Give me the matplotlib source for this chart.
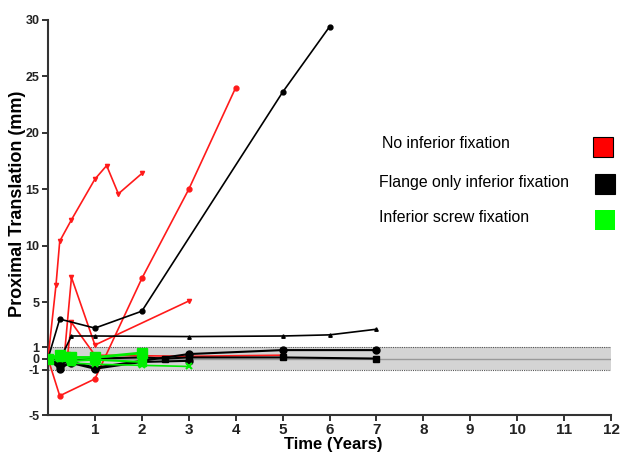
import matplotlib
matplotlib.use("Agg")
import matplotlib.pyplot as plt
from matplotlib.patches import Rectangle

# --- data (x = years, y = mm) ---
red_1_x = [0, 0.17, 0.25, 0.5, 1, 1.25, 1.5, 2]
red_1_y = [0, 6.5, 10.4, 12.3, 15.9, 17.1, 14.6, 16.4]
red_2_x = [0, 0.25, 1, 2, 3, 4]
red_2_y = [0, -3.3, -1.8, 7.1, 15.0, 24.0]
red_3_x = [0, 0.35, 0.5, 1, 3]
red_3_y = [0, 0.3, 7.2, 1.2, 5.1]
red_4_x = [0, 0.42, 0.5, 1, 3, 5]
red_4_y = [0, 0.4, 3.2, 0.3, 0.2, 0.3]

black_1_x = [0, 0.25, 1, 2, 5, 6]
black_1_y = [0, 3.5, 2.7, 4.2, 23.6, 29.4]
black_2_x = [0, 0.25, 0.5, 1, 3, 5, 6, 7]
black_2_y = [0, -0.1, 2.0, 2.0, 1.95, 2.0, 2.1, 2.6]
black_3_x = [0, 0.25, 0.5, 1, 2, 3, 5, 7]
black_3_y = [0, -0.9, -0.3, -0.8, -0.2, 0.4, 0.75, 0.75]
black_4_x = [0, 0.25, 0.5, 1, 2, 2.5, 3, 5, 7]
black_4_y = [0, -0.5, -0.2, 0.0, 0.1, 0.0, 0.1, 0.1, 0.0]
black_5_x = [0, 0.25, 0.5, 1, 2, 3]
black_5_y = [0, -0.7, -0.4, -0.9, -0.3, -0.2]

green_1_x = [0, 0.25, 0.5, 1, 2]
green_1_y = [0, 0.3, 0.1, 0.1, 0.5]
green_2_x = [0, 0.25, 0.5, 1, 2]
green_2_y = [0, 0.1, -0.2, -0.1, -0.3]
green_3_x = [0, 0.25, 0.5, 1, 2, 3]
green_3_y = [0, 0.0, -0.4, -0.5, -0.6, -0.7]

y_ticks = [30, 25, 20, 15, 10, 5, 1, 0, -1, -5]
x_ticks = list(range(1, 13))
legend_labels = ["No inferior fixation", "Flange only inferior fixation", "Inferior screw fixation"]
legend_colors = ["#ff0000", "#000000", "#00ff00"]

plt.rcParams["font.family"] = ["Liberation Sans", "DejaVu Sans"]

fig = plt.figure(figsize=(6.2, 4.55), dpi=100)
ax = fig.add_axes([48 / 620, 40 / 455, 563 / 620, 395 / 455])

# reference band
ax.axhspan(-1, 1, facecolor="#d4d4d4", edgecolor="none", zorder=0)
ax.axhline(1, color="#555555", lw=0.8, ls=(0, (1, 1)), zorder=1)
ax.axhline(-1, color="#555555", lw=0.8, ls=(0, (1, 1)), zorder=1)
ax.axhline(0, color="#9a9a9a", lw=1.0, zorder=1)

red = "#ff1a1a"
ax.plot(red_1_x, red_1_y, color=red, lw=1.2, marker="v", ms=3, zorder=3)
ax.plot(red_2_x, red_2_y, color=red, lw=1.2, marker="o", ms=3.5, zorder=3)
ax.plot(red_3_x, red_3_y, color=red, lw=1.2, marker="v", ms=3, zorder=3)
ax.plot(red_4_x, red_4_y, color=red, lw=1.2, marker="v", ms=3, zorder=3)

ax.plot(black_1_x, black_1_y, color="black", lw=1.2, marker="o", ms=3.5, zorder=4)
ax.plot(black_2_x, black_2_y, color="black", lw=1.2, marker="^", ms=2.5, zorder=4)
ax.plot(black_3_x, black_3_y, color="black", lw=1.5, marker="o", ms=5, zorder=4)
ax.plot(black_4_x, black_4_y, color="black", lw=1.5, marker="s", ms=5, zorder=4)
ax.plot(black_5_x, black_5_y, color="black", lw=1.5, marker="o", ms=5, zorder=4)

green = "#00ee00"
ax.plot(green_1_x, green_1_y, color=green, lw=2.0, marker="s", ms=7, zorder=5)
ax.plot(green_2_x, green_2_y, color=green, lw=1.5, marker="s", ms=6, zorder=5)
ax.plot(green_3_x, green_3_y, color=green, lw=1.2, marker="x", ms=5, mew=1.5, zorder=5)

ax.set_xlim(0, 12)
ax.set_ylim(-5, 30)
ax.set_xticks(x_ticks)
ax.set_yticks(y_ticks)
ax.set_xticklabels([str(t) for t in x_ticks], fontweight="bold", fontsize=11)
ax.set_yticklabels([str(t) for t in y_ticks], fontweight="bold", fontsize=9)
ax.tick_params(direction="out", length=4, width=1.3, colors="#222222", pad=2)
for s in ["top", "right"]:
    ax.spines[s].set_visible(False)
for s in ["left", "bottom"]:
    ax.spines[s].set_linewidth(1.5)
    ax.spines[s].set_color("#333333")

fig.text(333 / 620, 1 - 445 / 455, "Time (Years)", ha="center", va="center",
         fontsize=12, fontweight="bold")
fig.text(18 / 620, 1 - 204 / 455, "Proximal Translation (mm)", ha="center", va="center",
         rotation=90, fontsize=13, fontweight="bold")

# manual legend on the right
text_pos = [(382, 144), (379, 182), (379, 217)]
box_pos = [(593, 137), (595, 174), (595, 210)]
for lab, col, (tx, ty), (bx, by) in zip(legend_labels, legend_colors, text_pos, box_pos):
    fig.text(tx / 620, 1 - ty / 455, lab, ha="left", va="center", fontsize=11.4)
    fig.add_artist(Rectangle((bx / 620, 1 - (by + 20) / 455), 20 / 620, 20 / 455,
                             transform=fig.transFigure, facecolor=col,
                             edgecolor="black" if col != "#00ff00" else "none", lw=0.8))

fig.savefig("out.png", dpi=100)
